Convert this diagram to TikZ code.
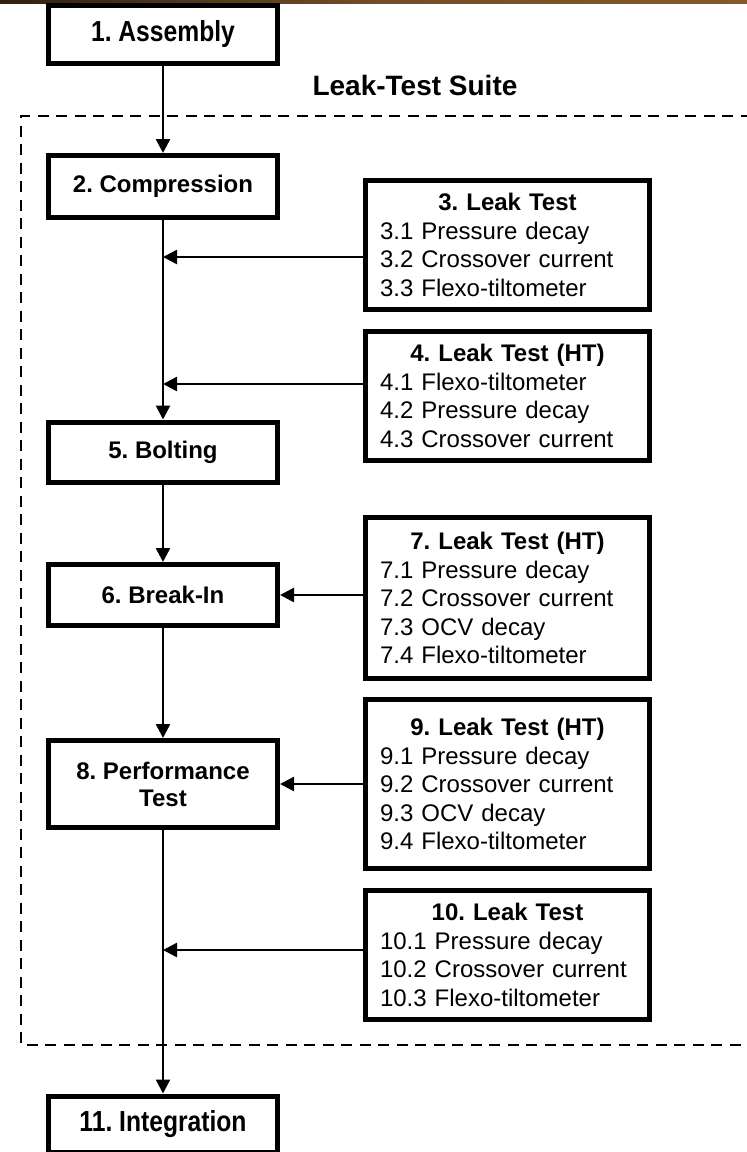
\documentclass[tikz,border=0pt]{standalone}
\usepackage{fontspec}
\usepackage{graphicx}
\setmainfont{Liberation Sans}
\usetikzlibrary{arrows.meta}
\frenchspacing
\begin{document}
\begin{tikzpicture}[x=1pt,y=-1pt,
  colbox/.style={draw,line width=5pt,minimum width=229pt,inner sep=0pt,font=\fontsize{24}{27}\selectfont\bfseries,align=center},
  sidebox/.style={draw,line width=5pt,minimum width=284pt,text width=255pt,inner sep=0pt,align=left,font=\fontsize{24}{28.5}\selectfont},
  conn/.style={line width=2.5pt,-{Triangle[length=14pt,width=14pt]}},
  suite/.style={draw,line width=2.5pt,dash pattern=on 11pt off 7.5pt}]
\useasboundingbox (0,0) rectangle (747,1152);
\fill[left color=black!75!brown,right color=brown!70!black,middle color=brown!60!black] (0,0) rectangle (747,3);
% dashed suite frame
\draw[suite] (770,116) -- (21,116) -- (21,1045) -- (770,1045);
\node[font=\fontsize{28}{32}\selectfont\bfseries] (title) at (415,85) {Leak-Test Suite};
% column boxes
\node[colbox,minimum height=58pt] (b1) at (163,34) {\scalebox{0.85}[1]{\fontsize{29}{30}\selectfont 1. Assembly}};
\node[colbox,minimum height=62pt] (b2) at (163,186.5) {2. Compression};
\node[colbox,minimum height=60pt] (b5) at (163,452) {5. Bolting};
\node[colbox,minimum height=61pt] (b6) at (163,595) {6. Break-In};
\node[colbox,minimum height=87pt] (b8) at (163,784) {8. Performance\\Test};
\node[colbox,minimum height=56pt] (b11) at (163,1124) {\scalebox{0.85}[1]{\fontsize{29}{30}\selectfont 11. Integration}};
% side boxes
\newcommand{\ttl}[1]{\makebox[255pt]{\bfseries #1}}
\node[sidebox,minimum height=129pt] (b3) at (507.5,245) {\ttl{3. Leak Test}\\3.1 Pressure decay\\3.2 Crossover current\\3.3 Flexo-tiltometer};
\node[sidebox,minimum height=129pt] (b4) at (507.5,396) {\ttl{4. Leak Test (HT)}\\4.1 Flexo-tiltometer\\4.2 Pressure decay\\4.3 Crossover current};
\node[sidebox,minimum height=161pt] (b7) at (507.5,598) {\ttl{7. Leak Test (HT)}\\7.1 Pressure decay\\7.2 Crossover current\\7.3 OCV decay\\7.4 Flexo-tiltometer};
\node[sidebox,minimum height=169pt] (b9) at (507.5,784) {\ttl{9. Leak Test (HT)}\\9.1 Pressure decay\\9.2 Crossover current\\9.3 OCV decay\\9.4 Flexo-tiltometer};
\node[sidebox,minimum height=129pt] (b10) at (507.5,955) {\ttl{10. Leak Test}\\10.1 Pressure decay\\10.2 Crossover current\\10.3 Flexo-tiltometer};
% connectors
\coordinate (j3) at (163,257);
\coordinate (j4) at (163,384);
\coordinate (j10) at (163,950);
\draw[conn] (b1) -- (b2);
\draw[conn] (b2) -- (b5);
\draw[conn] (b5) -- (b6);
\draw[conn] (b6) -- (b8);
\draw[conn] (b8) -- (b11);
\draw[conn] (b3.west |- j3) -- (j3);
\draw[conn] (b4.west |- j4) -- (j4);
\draw[conn] (b7.west |- b6.east) -- (b6.east);
\draw[conn] (b9.west |- b8.east) -- (b8.east);
\draw[conn] (b10.west |- j10) -- (j10);
\end{tikzpicture}
\end{document}
